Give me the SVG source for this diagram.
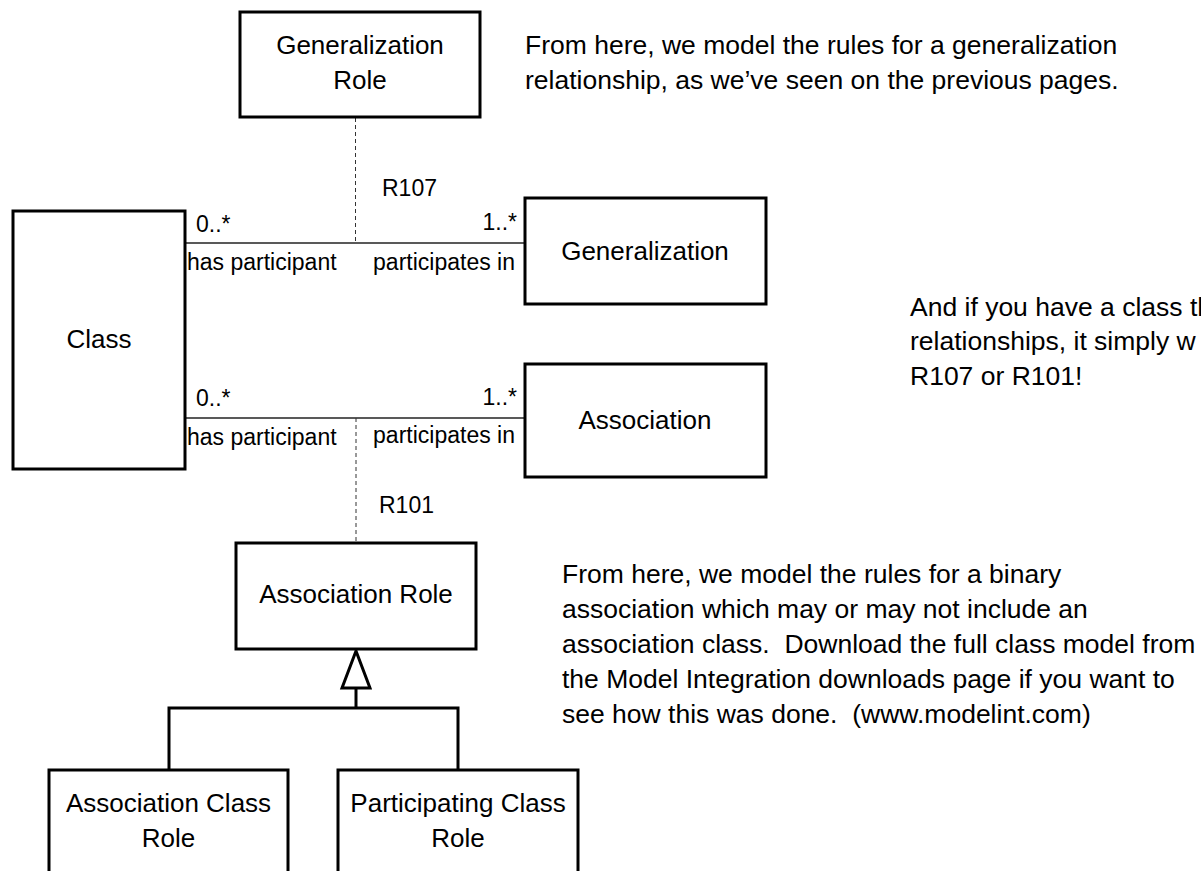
<svg xmlns="http://www.w3.org/2000/svg" width="1201" height="871" viewBox="0 0 1201 871">
<style>
  text { font-family: "Liberation Sans", Arial, sans-serif; fill: #000; }
  .box { fill: #fff; stroke: #000; stroke-width: 3; }
  .name { font-size: 26px; text-anchor: middle; }
  .lbl { font-size: 23px; }
  .end { text-anchor: end; }
  .note { font-size: 26.5px; }
  .assoc { stroke: #222; stroke-width: 1.6; fill: none; }
  .dash { stroke: #333; stroke-width: 1; stroke-dasharray: 4 3; fill: none; }
  .gen { stroke: #000; stroke-width: 3; fill: none; }
</style>
<rect width="1201" height="871" fill="#fff"/>
<g id="connectors">
  <line class="assoc" x1="185" y1="243" x2="525" y2="243"/>
  <line class="dash" x1="355.5" y1="118" x2="355.5" y2="243"/>
  <line class="assoc" x1="185" y1="418" x2="525" y2="418"/>
  <line class="dash" x1="356" y1="418" x2="356" y2="542"/>
  <polyline class="gen" points="356,688 356,708"/>
  <polyline class="gen" points="169,770 169,708 458,708 458,770"/>
  <polygon class="gen" points="356,651 342,688 370,688" fill="#fff"/>
  <text class="lbl" x="382" y="196">R107</text>
  <text class="lbl" x="196" y="232">0..*</text>
  <text class="lbl end" x="517" y="230">1..*</text>
  <text class="lbl" x="187" y="270">has participant</text>
  <text class="lbl end" x="515" y="270">participates in</text>
  <text class="lbl" x="196" y="406">0..*</text>
  <text class="lbl end" x="517" y="405">1..*</text>
  <text class="lbl" x="187" y="445">has participant</text>
  <text class="lbl end" x="515" y="443">participates in</text>
  <text class="lbl" x="379" y="513">R101</text>
</g>
<g id="generalization-role">
  <rect class="box" x="240" y="12" width="240" height="105"/>
  <text class="name" x="360" y="54">Generalization</text>
  <text class="name" x="360" y="89">Role</text>
</g>
<g id="class">
  <rect class="box" x="13" y="211" width="172" height="258"/>
  <text class="name" x="99" y="348">Class</text>
</g>
<g id="generalization">
  <rect class="box" x="525" y="198" width="241" height="106"/>
  <text class="name" x="645" y="260">Generalization</text>
</g>
<g id="association">
  <rect class="box" x="525" y="364" width="241" height="113"/>
  <text class="name" x="645" y="429">Association</text>
</g>
<g id="association-role">
  <rect class="box" x="236" y="543" width="240" height="106"/>
  <text class="name" x="356" y="603">Association Role</text>
</g>
<g id="association-class-role">
  <rect class="box" x="49" y="770" width="239" height="115"/>
  <text class="name" x="168.5" y="812">Association Class</text>
  <text class="name" x="168.5" y="847">Role</text>
</g>
<g id="participating-class-role">
  <rect class="box" x="338" y="770" width="240" height="115"/>
  <text class="name" x="458" y="812">Participating Class</text>
  <text class="name" x="458" y="847">Role</text>
</g>
<g id="notes">
  <text class="note" x="525" y="54">From here, we model the rules for a generalization</text>
  <text class="note" x="525" y="89">relationship, as we’ve seen on the previous pages.</text>
  <text class="note" x="910" y="316">And if you have a class th</text>
  <text class="note" x="910" y="350">relationships, it simply w</text>
  <text class="note" x="910" y="385">R107 or R101!</text>
  <text class="note" x="562" y="583">From here, we model the rules for a binary</text>
  <text class="note" x="562" y="618">association which may or may not include an</text>
  <text class="note" x="562" y="653">association class.&#160; Download the full class model from</text>
  <text class="note" x="562" y="688">the Model Integration downloads page if you want to</text>
  <text class="note" x="562" y="723">see how this was done.&#160; (www.modelint.com)</text>
</g>
</svg>
